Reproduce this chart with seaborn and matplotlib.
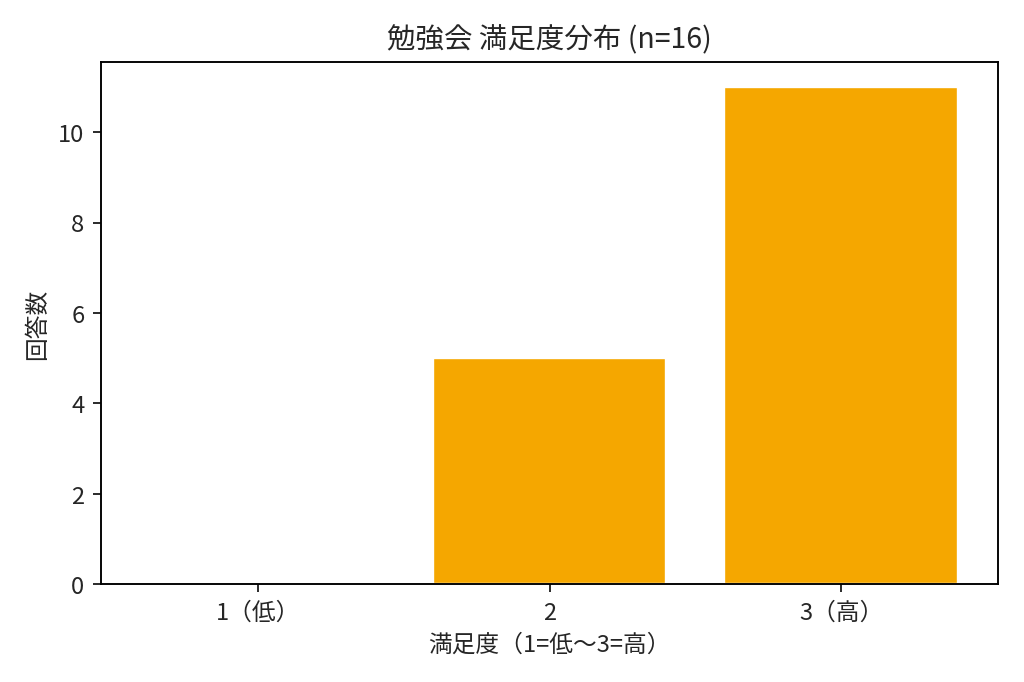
import pandas as pd
import matplotlib
matplotlib.use("Agg")
import matplotlib.pyplot as plt
import seaborn as sns

# data
levels = ["1（低）", "2", "3（高）"]
counts = [0, 5, 11]
n_total = 16

sns.set_style("ticks")
plt.rcParams["font.family"] = ["Noto Sans CJK JP", "DejaVu Sans"]

df = pd.DataFrame({"level": levels, "count": counts})

fig, ax = plt.subplots(figsize=(6, 4), dpi=1024 / 6)
sns.barplot(data=df, x="level", y="count", color="#F5A700", saturation=1,
            width=0.8, ax=ax)
ax.set_xlim(-0.54, 2.54)
ax.set_ylim(0, max(counts) * 1.05)
ax.set_title(f"勉強会 満足度分布 (n={n_total})")
ax.set_xlabel("満足度（1=低〜3=高）")
ax.set_ylabel("回答数")
for s in ax.spines.values():
    s.set_visible(True)
    s.set_color("black")
plt.tight_layout()
plt.savefig("out.png", dpi=1024 / 6)
